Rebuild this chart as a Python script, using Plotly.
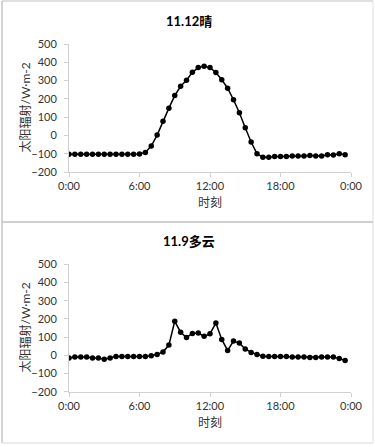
import plotly.graph_objects as go

times = [f"{h}:{m:02d}" for h in range(24) for m in (0, 30)]
hours = [int(t.split(":")[0]) + int(t.split(":")[1]) / 60 for t in times]

sunny_1112 = [-103, -103, -103, -103, -103, -103, -103, -103, -103, -103, -103, -103, -102,
              -93, -58, 2, 78, 149, 218, 269, 302, 345, 371, 378, 371, 344, 305, 258,
              195, 124, 42, -36, -100, -120, -120, -115, -115, -115, -113, -113, -112,
              -110, -113, -113, -106, -107, -100, -105]
cloudy_119 = [-15, -9, -9, -9, -15, -15, -22, -15, -7, -7, -7, -7, -7, -7, -2, 5, 18, 56,
              187, 127, 98, 120, 122, 104, 118, 178, 87, 27, 78, 67, 35, 16, 5, -5, -7,
              -6, -6, -7, -9, -9, -10, -12, -12, -10, -9, -9, -18, -28]

panel_titles = ["11.12晴", "11.9多云"]
x_title = "时刻"
y_title = "太阳辐射/W·m-2"
xtick_vals = [0, 6, 12, 18, 24]
xtick_text = ["0:00", "6:00", "12:00", "18:00", "0:00"]
ytick_vals = [-200, -100, 0, 100, 200, 300, 400, 500]

W, H = 375, 447
FONT = "Lato, Noto Sans CJK SC, sans-serif"
def py(p):
    return 1 - p / H
def px(p):
    return p / W

fig = go.Figure()
for i, ys in enumerate([sunny_1112, cloudy_119]):
    fig.add_trace(go.Scatter(
        x=hours, y=ys, mode="lines+markers",
        line=dict(color="black", width=1.5),
        marker=dict(color="black", size=5.5),
        xaxis="x" if i == 0 else "x2", yaxis="y" if i == 0 else "y2",
        showlegend=False, hoverinfo="skip"))

axis_common = dict(showgrid=False, zeroline=False, showline=True, linecolor="#d0d0d0",
                   linewidth=1, ticks="outside", ticklen=4, tickcolor="#d0d0d0",
                   automargin=False,
                   tickfont=dict(family=FONT, size=11, color="#333333"))
xa = dict(axis_common, range=[0, 24], tickvals=xtick_vals, ticktext=xtick_text,
          domain=[px(69), px(351)], ticklabelstandoff=0)
ya = dict(axis_common, range=[-200, 500], tickvals=ytick_vals, ticklabelstandoff=5)

fig.update_layout(
    width=W, height=H, margin=dict(l=0, r=0, t=0, b=0, pad=0, autoexpand=False),
    paper_bgcolor="white", plot_bgcolor="white", hovermode=False,
    xaxis=dict(xa, anchor="y"),
    yaxis=dict(ya, domain=[py(172), py(44)], anchor="x"),
    xaxis2=dict(xa, anchor="y2"),
    yaxis2=dict(ya, domain=[py(391.7), py(264.3)], anchor="x2"),
)

ann = []
for i, off in enumerate([0, 220]):
    ann.append(dict(text=f"<b>{panel_titles[i]}</b>", x=px(189), y=py(off + 20.5), xref="paper", yref="paper",
                    showarrow=False, font=dict(family=FONT, size=13, color="black"),
                    xanchor="center", yanchor="middle"))
    ann.append(dict(text=x_title, x=px(210), y=py(off + 202.5), xref="paper", yref="paper",
                    showarrow=False, font=dict(family=FONT, size=12, color="#333333"),
                    xanchor="center", yanchor="middle"))
    ann.append(dict(text=y_title, x=px(25), y=py(off + 107.5), xref="paper", yref="paper",
                    showarrow=False, font=dict(family=FONT, size=12, color="#333333"),
                    xanchor="center", yanchor="middle", textangle=-90))
fig.update_layout(annotations=ann)

shapes = [
    dict(type="line", x0=px(2), x1=px(2), y0=py(443), y1=py(1), line=dict(color="#a8a8a8", width=1)),
    dict(type="line", x0=px(2), x1=px(373), y0=py(1), y1=py(1), line=dict(color="#c0c0c0", width=1)),
    dict(type="line", x0=px(373), x1=px(373), y0=py(443), y1=py(1), line=dict(color="#e0e0e0", width=1)),
    dict(type="line", x0=px(2), x1=px(373), y0=py(443), y1=py(443), line=dict(color="#d8d8d8", width=1)),
    dict(type="line", x0=px(2), x1=px(373), y0=py(222), y1=py(222), line=dict(color="#c0c0c0", width=1.5)),
]
for s in shapes:
    s.update(xref="paper", yref="paper")
fig.update_layout(shapes=shapes)

fig.write_html("out.html", config={"displayModeBar": False, "staticPlot": True},
               post_script="document.body.style.margin='0';document.body.style.overflow='hidden';")
